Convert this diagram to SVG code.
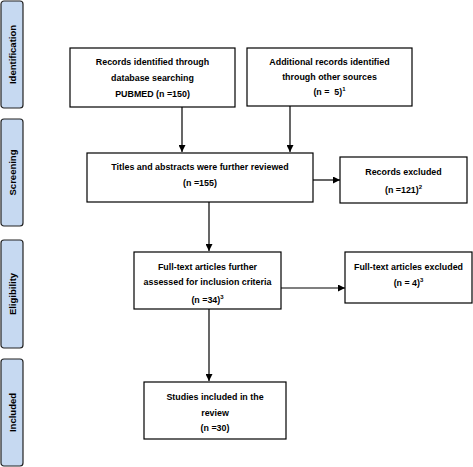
<svg xmlns="http://www.w3.org/2000/svg" width="473" height="467" viewBox="0 0 473 467">
<style>
.box{fill:#fff;stroke:#000;stroke-width:1.2}
.side{fill:#c6d9f1;stroke:#222;stroke-width:1.2}
.t{font-family:"Liberation Sans",Arial,sans-serif;font-weight:bold;font-size:8.9px;fill:#000;text-anchor:middle}
.st{font-family:"Liberation Sans",Arial,sans-serif;font-weight:bold;font-size:9.5px;fill:#000;text-anchor:middle}
.sup{font-size:6px}
.c{stroke:#000;stroke-width:1.2;fill:none;marker-end:url(#ah)}
</style>
<defs>
<marker id="ah" viewBox="0 0 10 10" refX="10" refY="5" markerWidth="7" markerHeight="7" orient="auto" markerUnits="userSpaceOnUse">
<path d="M0,0 L10,5 L0,10 z" fill="#000"/>
</marker>
</defs>
<rect width="473" height="467" fill="#fff"/>
<g id="side-identification"><rect class="side" x="1" y="1" width="22" height="107" rx="3"/><text class="st" transform="translate(15.5,54.5) rotate(-90)">Identification</text></g>
<g id="side-screening"><rect class="side" x="1" y="119" width="22" height="107" rx="3"/><text class="st" transform="translate(15.5,172.5) rotate(-90)">Screening</text></g>
<g id="side-eligibility"><rect class="side" x="1" y="240" width="22" height="108" rx="3"/><text class="st" transform="translate(15.5,294) rotate(-90)">Eligibility</text></g>
<g id="side-included"><rect class="side" x="1" y="359" width="22" height="107" rx="3"/><text class="st" transform="translate(15.5,412.5) rotate(-90)">Included</text></g>
<g id="connectors">
<line class="c" x1="182" y1="107" x2="182" y2="152"/>
<line class="c" x1="290" y1="106" x2="290" y2="152"/>
<line class="c" x1="313" y1="180" x2="340" y2="180"/>
<line class="c" x1="209" y1="202" x2="209" y2="251"/>
<line class="c" x1="281" y1="288" x2="345" y2="288"/>
<line class="c" x1="209" y1="309" x2="209" y2="381"/>
</g>
<g id="n1"><rect class="box" x="70" y="48" width="165" height="59"/>
<text class="t" x="152.5" y="65">Records identified through</text>
<text class="t" x="152.5" y="81">database searching</text>
<text class="t" x="152.5" y="97">PUBMED (n =150)</text></g>
<g id="n2"><rect class="box" x="247" y="48" width="165" height="58"/>
<text class="t" x="329.5" y="65">Additional records identified</text>
<text class="t" x="329.5" y="80">through other sources</text>
<text class="t" x="329.5" y="95">(n =&#160; 5)<tspan class="sup" dy="-4">1</tspan></text></g>
<g id="n3"><rect class="box" x="87" y="153" width="226" height="49"/>
<text class="t" x="200" y="170">Titles and abstracts were further reviewed</text>
<text class="t" x="200" y="186">(n =155)</text></g>
<g id="n4"><rect class="box" x="340" y="157" width="127" height="46"/>
<text class="t" x="403.5" y="175">Records excluded</text>
<text class="t" x="403.5" y="193">(n =121)<tspan class="sup" dy="-4">2</tspan></text></g>
<g id="n5"><rect class="box" x="134" y="252" width="147" height="57"/>
<text class="t" x="207.5" y="270">Full-text articles further</text>
<text class="t" x="207.5" y="285">assessed for inclusion criteria</text>
<text class="t" x="207.5" y="303">(n =34)<tspan class="sup" dy="-4">3</tspan></text></g>
<g id="n6"><rect class="box" x="345" y="252" width="127" height="51"/>
<text class="t" x="408.5" y="270">Full-text articles excluded</text>
<text class="t" x="408.5" y="286">(n = 4)<tspan class="sup" dy="-4">3</tspan></text></g>
<g id="n7"><rect class="box" x="144" y="382" width="142" height="57"/>
<text class="t" x="215" y="400">Studies included in the</text>
<text class="t" x="215" y="416">review</text>
<text class="t" x="215" y="431">(n =30)</text></g>
</svg>
